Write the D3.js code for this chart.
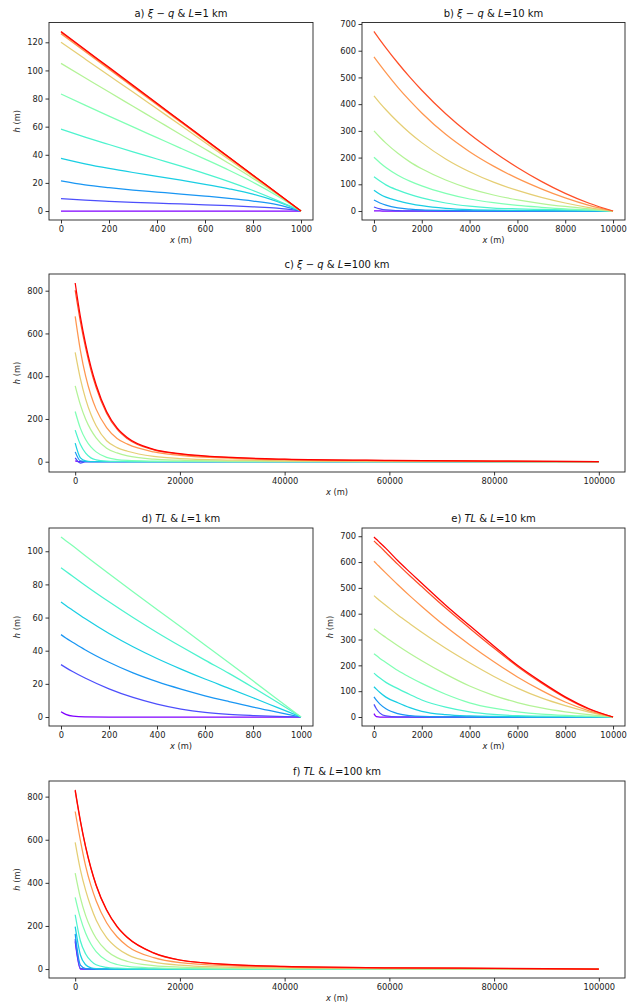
<!doctype html>
<html lang="en">
<head>
<meta charset="utf-8">
<title>h profiles</title>
<script src="https://cdn.jsdelivr.net/npm/d3@7"></script>
<style>
  body { margin: 0; background: #fff; }
  svg { font-family: 'DejaVu Sans', sans-serif; }
</style>
</head>
<body>
<div id="fig"></div>
<script>
// ---- data ----
// a) xi-q, L = 1 km
const xA = [0, 100, 200, 300, 400, 500, 600, 700, 800, 900, 1000]
const hA = [
  [0, 0, 0, 0, 0, 0, 0, 0, 0, 0, 0],
  [8.8, 7.7, 6.9, 6.2, 5.6, 5.0, 4.4, 3.8, 3.0, 2.0, 0],
  [21.4, 18.6, 16.6, 14.9, 13.5, 12.1, 10.6, 9.0, 7.1, 4.6, 0],
  [37.5, 33.6, 30.3, 27.4, 24.7, 21.9, 19.0, 15.8, 12.0, 6.8, 0],
  [58.2, 52.6, 47.3, 42.1, 37.0, 31.9, 26.6, 20.9, 14.6, 7.6, 0],
  [83.2, 75.3, 67.5, 59.8, 52.2, 44.6, 36.9, 29.0, 20.5, 10.9, 0],
  [105.0, 94.8, 84.6, 74.5, 64.4, 54.3, 44.1, 33.8, 23.2, 12.0, 0],
  [120.0, 108.2, 96.4, 84.6, 72.7, 60.8, 48.8, 36.7, 24.5, 12.3, 0],
  [126.0, 113.4, 100.8, 88.2, 75.6, 63.0, 50.4, 37.8, 25.2, 12.6, 0],
  [127.2, 114.5, 101.8, 89.0, 76.3, 63.6, 50.9, 38.2, 25.4, 12.7, 0],
  [127.7, 114.9, 102.2, 89.4, 76.6, 63.9, 51.1, 38.3, 25.5, 12.8, 0]
]

// b) xi-q, L = 10 km
const xB = [0, 250, 500, 1000, 1500, 2000, 3000, 4000, 5000, 6000, 7000, 8000, 9000, 10000]
const hB = [
  [0.5, 0.2, 0, 0, 0, 0, 0, 0, 0, 0, 0, 0, 0, 0],
  [15, 8, 4, 1.5, 0.5, 0.2, 0, 0, 0, 0, 0, 0, 0, 0],
  [41, 30, 22, 12, 7, 4, 2, 1, 0.5, 0.3, 0.2, 0.1, 0, 0],
  [78, 63, 52, 38, 28, 20, 10, 5, 3, 2, 1.5, 1, 0.5, 0],
  [128, 112, 98, 78, 62, 49, 30, 18, 11, 8, 6, 4.5, 3, 0],
  [201, 181, 163, 134, 112, 94, 66, 45, 31, 21, 14, 8, 4, 0],
  [300, 276, 254, 216, 184, 158, 116, 84, 60, 42, 28, 17, 8, 0],
  [431, 404, 379, 333, 292, 256, 195, 147, 108, 77, 51, 30, 13, 0],
  [577, 547, 518, 463, 413, 367, 287, 222, 168, 122, 83, 49, 21, 0],
  [672, 641, 611, 554, 501, 452, 364, 288, 222, 163, 111, 66, 29, 0],
  null
]

// c) xi-q, L = 100 km
const xC = [0, 1000, 2000, 3000, 4000, 6000, 8000, 10000, 15000, 20000, 30000, 40000, 60000, 80000, 100000]
const hC = [
  [4, 0, 0, 0, 0, 0, 0, 0, 0, 0, 0, 0, 0, 0, 0],
  [18, -6, 0, 0, 0, 0, 0, 0, 0, 0, 0, 0, 0, 0, 0],
  [46, 4, 1, 0, 0, 0, 0, 0, 0, 0, 0, 0, 0, 0, 0],
  [87, 18, 4, 1, 0.5, 0, 0, 0, 0, 0, 0, 0, 0, 0, 0],
  [148, 80, 40, 18, 9, 3, 1.5, 1, 0.5, 0.3, 0.2, 0.1, 0, 0, 0],
  [235, 156, 104, 69, 46, 20, 10, 6, 3, 2, 1, 0.5, 0.3, 0.1, 0],
  [355, 266, 199, 149, 112, 63, 41, 27, 12, 7, 3, 2, 1, 0.5, 0],
  [511, 387, 293, 222, 168, 98, 66, 49, 25, 15, 8, 4, 2, 1, 0],
  [680, 520, 400, 312, 246, 160, 109, 82, 46, 30, 16, 9, 4, 2, 0],
  [802, 655, 532, 430, 348, 227, 152, 107, 55, 36, 19, 11, 5.5, 2.8, 0],
  [836, 678, 550, 445, 360, 235, 158, 112, 58, 38, 20, 12, 6, 3, 0]
]

// d) TL, L = 1 km
const xD = [0, 20, 50, 100, 200, 300, 400, 500, 600, 700, 800, 900, 1000]
const hD = [
  [3.2, 1.6, 0.5, 0.1, 0, 0, 0, 0, 0, 0, 0, 0, 0],
  [31.6, 29.8, 27.3, 23.5, 17.0, 11.8, 7.8, 4.8, 2.8, 1.6, 0.9, 0.4, 0],
  [49.7, 47.7, 45.0, 40.6, 33.0, 26.6, 21.3, 16.8, 12.8, 9.3, 6.0, 3.0, 0],
  [69.4, 67.3, 64.3, 59.4, 50.4, 42.4, 35.3, 28.9, 22.9, 17.3, 11.6, 5.8, 0],
  [90.0, 87.9, 84.8, 79.5, 69.5, 60.0, 51.0, 42.5, 34.3, 26.3, 17.8, 9.0, 0],
  [108.6, 106.4, 103.1, 97.4, 86.4, 75.6, 64.9, 54.3, 43.5, 32.7, 21.8, 10.9, 0],
  null, null, null, null, null
]

// e) TL, L = 10 km
const xE = [0, 100, 250, 500, 1000, 1500, 2000, 3000, 4000, 5000, 6000, 7000, 8000, 9000, 10000]
const hE = [
  [13, 1, 0, 0, 0, 0, 0, 0, 0, 0, 0, 0, 0, 0, 0],
  [49, 32, 15, 4, 0.3, 0, 0, 0, 0, 0, 0, 0, 0, 0, 0],
  [78, 65, 50, 32, 13, 5, 2, 0.5, 0, 0, 0, 0, 0, 0, 0],
  [117, 108, 95, 77, 55, 36, 22, 9, 4, 2, 1, 0.5, 0.3, 0.1, 0],
  [170, 162, 151, 134, 110, 87, 66, 38, 20, 10, 5, 3, 2, 1, 0],
  [245, 238, 227, 211, 180, 154, 130, 88, 55, 34, 20, 11, 6, 3, 0],
  [342, 335, 324, 308, 276, 246, 218, 166, 120, 84, 56, 35, 20, 9, 0],
  [470, 462, 450, 432, 395, 361, 328, 266, 210, 158, 112, 74, 44, 19, 0],
  [603, 594, 580, 557, 512, 469, 428, 350, 280, 215, 155, 103, 58, 24, 0],
  [682, 673, 660, 637, 591, 547, 505, 422, 344, 268, 196, 132, 75, 30, 0],
  [697, 688, 675, 653, 605, 561, 518, 433, 354, 276, 200, 136, 78, 32, 0]
]

// f) TL, L = 100 km
const xF = [0, 1000, 2000, 3000, 4000, 6000, 8000, 10000, 15000, 20000, 30000, 40000, 60000, 80000, 100000]
const hF = [
  [128, 0, 0, 0, 0, 0, 0, 0, 0, 0, 0, 0, 0, 0, 0],
  [139, 3, 0, 0, 0, 0, 0, 0, 0, 0, 0, 0, 0, 0, 0],
  [163, 18, 2, 0.5, 0, 0, 0, 0, 0, 0, 0, 0, 0, 0, 0],
  [197, 65, 20, 6, 2, 0.5, 0, 0, 0, 0, 0, 0, 0, 0, 0],
  [252, 130, 70, 38, 20, 8, 4, 2, 1, 0.5, 0.2, 0.1, 0, 0, 0],
  [333, 236, 166, 116, 81, 40, 21, 12, 5, 2, 1, 0.5, 0.2, 0.1, 0],
  [445, 330, 248, 188, 143, 85, 53, 35, 16, 9, 4, 2, 1, 0.5, 0],
  [588, 460, 365, 289, 228, 146, 98, 67, 32, 18, 8, 5, 2, 1, 0],
  [731, 596, 478, 388, 317, 215, 150, 106, 53, 30, 15, 9, 4, 2, 0],
  [826, 684, 565, 467, 388, 273, 196, 145, 74, 41, 19.5, 11.5, 5.8, 2.9, 0],
  [831, 688, 568, 470, 390, 275, 198, 146, 75, 42, 20, 12, 6, 3, 0]
]

// tick labels
const ticks1kX = [0, 200, 400, 600, 800, 1000]
const ticks10kX = [0, 2000, 4000, 6000, 8000, 10000]
const ticks100kX = [0, 20000, 40000, 60000, 80000, 100000]
const ticksAY = [0, 20, 40, 60, 80, 100, 120]
const ticksDY = [0, 20, 40, 60, 80, 100]
const ticks700Y = [0, 100, 200, 300, 400, 500, 600, 700]
const ticks800Y = [0, 200, 400, 600, 800]

// matplotlib 'rainbow' colormap
function rainbow(t) {
  let r = Math.min(1, Math.abs(2 * t - 0.5))
  let g = Math.sin(Math.PI * t)
  let b = Math.cos(Math.PI * t / 2)
  return d3.rgb(r * 255, g * 255, b * 255).toString()
}

let width = 627
let height = 1006

let panels = [
  {tag: 'a', model: 'xi', L: '1', x: xA, h: hA, xt: ticks1kX, yt: ticksAY, box: [49, 22.5, 313, 220], ylab: true},
  {tag: 'b', model: 'xi', L: '10', x: xB, h: hB, xt: ticks10kX, yt: ticks700Y, box: [362, 22.5, 625, 220], ylab: false},
  {tag: 'c', model: 'xi', L: '100', x: xC, h: hC, xt: ticks100kX, yt: ticks800Y, box: [49, 274, 625, 472], ylab: true},
  {tag: 'd', model: 'tl', L: '1', x: xD, h: hD, xt: ticks1kX, yt: ticksDY, box: [49, 528, 313, 726], ylab: true},
  {tag: 'e', model: 'tl', L: '10', x: xE, h: hE, xt: ticks10kX, yt: ticks700Y, box: [362, 528, 625, 726], ylab: true},
  {tag: 'f', model: 'tl', L: '100', x: xF, h: hF, xt: ticks100kX, yt: ticks800Y, box: [49, 781, 625, 978], ylab: true}
]

let svg = d3.select('#fig')
  .append('svg')
  .attr('width', width)
  .attr('height', height)

function pad(ext) {
  let r = ext[1] - ext[0]
  return [ext[0] - 0.05 * r, ext[1] + 0.05 * r]
}

panels.forEach(p => {
  let [l, t, r, b] = p.box
  let allH = p.h.filter(s => s).flat()
  let x = d3.scaleLinear().domain(pad(d3.extent(p.x))).range([l, r])
  let y = d3.scaleLinear().domain(pad(d3.extent(allH))).range([b, t])

  let g = svg.append('g')

  let line = d3.line()
    .x(d => x(d[0]))
    .y(d => y(d[1]))
    .curve(d3.curveMonotoneX)

  p.h.forEach((hs, i) => {
    if (!hs) return
    g.append('path')
      .attr('d', line(p.x.map((xv, j) => [xv, hs[j]])))
      .attr('fill', 'none')
      .attr('stroke', rainbow(i / 10))
      .attr('stroke-width', 1.25)
  })

  let fmt = d3.format('d')
  let xAxis = g.append('g')
    .attr('transform', `translate(0,${b})`)
    .call(d3.axisBottom(x).tickValues(p.xt).tickSize(3.5).tickPadding(2.5).tickFormat(fmt))
  let yAxis = g.append('g')
    .attr('transform', `translate(${l},0)`)
    .call(d3.axisLeft(y).tickValues(p.yt).tickSize(3.5).tickPadding(2.5).tickFormat(fmt))
  ;[xAxis, yAxis].forEach(ax => {
    ax.select('.domain').remove()
    ax.attr('font-size', 8.3).attr('font-family', 'DejaVu Sans')
    ax.selectAll('.tick line').attr('stroke', '#000').attr('stroke-width', 0.8)
    ax.selectAll('.tick text').attr('fill', '#222')
  })

  g.append('rect')
    .attr('x', l).attr('y', t)
    .attr('width', r - l).attr('height', b - t)
    .attr('fill', 'none')
    .attr('stroke', '#222')
    .attr('stroke-width', 0.9)

  // title
  let title = g.append('text')
    .attr('x', (l + r) / 2).attr('y', t - 6)
    .attr('text-anchor', 'middle')
    .attr('font-size', 10)
    .attr('fill', '#111')
  title.append('tspan').text(p.tag + ') ')
  if (p.model == 'xi') {
    title.append('tspan').attr('font-style', 'italic').text('ξ')
    title.append('tspan').text(' − ')
    title.append('tspan').attr('font-style', 'italic').text('q')
  } else {
    title.append('tspan').attr('font-style', 'italic').text('TL')
  }
  title.append('tspan').text(' & ')
  title.append('tspan').attr('font-style', 'italic').text('L')
  title.append('tspan').text('=' + p.L + ' km')

  // x label
  let xl = g.append('text')
    .attr('x', (l + r) / 2).attr('y', b + 23)
    .attr('text-anchor', 'middle')
    .attr('font-size', 8.3)
    .attr('fill', '#222')
  xl.append('tspan').attr('font-style', 'italic').text('x')
  xl.append('tspan').text(' (m)')

  if (p.ylab) {
    let yl = g.append('text')
      .attr('transform', `translate(${l - 29.5},${(t + b) / 2}) rotate(-90)`)
      .attr('text-anchor', 'middle')
      .attr('font-size', 8.3)
      .attr('fill', '#222')
    yl.append('tspan').attr('font-style', 'italic').text('h')
    yl.append('tspan').text(' (m)')
  }
})
</script>
</body>
</html>
